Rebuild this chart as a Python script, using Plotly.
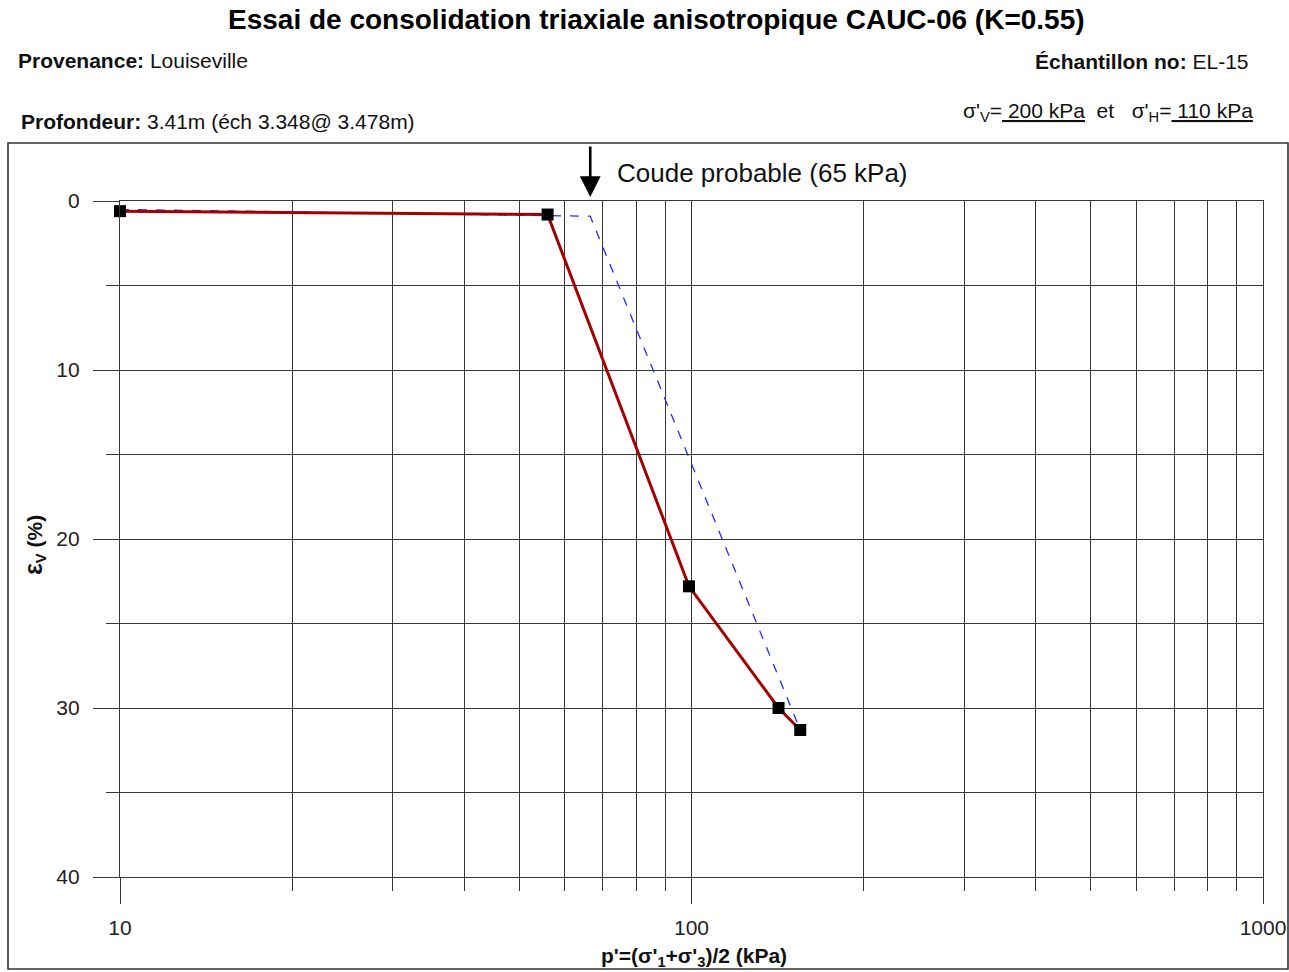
import math
import plotly.graph_objects as go

# ---- data ----
p_mesure = [10, 56, 99, 142, 155]          # kPa
ev_mesure = [0.6, 0.8, 22.8, 30.0, 31.3]   # %
p_interp = [10, 66.5, 155]
ev_interp = [0.5, 0.9, 31.3]
coude_p = 66.5
x_major = [10, 100, 1000]
x_major_text = ["10", "100", "1000"]
x_minor = [20, 30, 40, 50, 60, 70, 80, 90, 200, 300, 400, 500, 600, 700, 800, 900]
y_major = [0, 10, 20, 30, 40]
y_minor = [5, 15, 25, 35]

W, H = 1297, 972
L, R, T, B = 120, 1263, 201, 877
FONT = "Liberation Sans, Arial, sans-serif"
GRID = "#383838"


def px(xp):
    return (xp - L) / (R - L)


def py(yp):
    return (B - yp) / (B - T)


fig = go.Figure()
fig.add_trace(go.Scatter(x=p_interp, y=ev_interp, mode="lines",
                         line=dict(color="#2a2aff", width=1.3, dash="dash"),
                         hoverinfo="skip", showlegend=False, cliponaxis=False))
fig.add_trace(go.Scatter(x=p_mesure, y=ev_mesure, mode="lines+markers",
                         line=dict(color="#a50000", width=3),
                         marker=dict(symbol="square", size=12, color="black"),
                         showlegend=False, cliponaxis=False))

ann = []
ann.append(dict(text="<b>Essai de consolidation triaxiale anisotropique CAUC-06 (K=0.55)</b>",
                x=px(656), y=py(20), xref="paper", yref="paper", xanchor="center", yanchor="middle",
                showarrow=False, font=dict(size=28, color="black")))
ann.append(dict(text="<b>Provenance:</b> Louiseville",
                x=px(16), y=py(60), xref="paper", yref="paper", xanchor="left", yanchor="middle",
                showarrow=False, font=dict(size=21, color="#111")))
ann.append(dict(text="<b>Profondeur:</b> 3.41m (éch 3.348@ 3.478m)",
                x=px(19), y=py(121), xref="paper", yref="paper", xanchor="left", yanchor="middle",
                showarrow=False, font=dict(size=21, color="#111")))
ann.append(dict(text="<b>Échantillon no:</b> EL-15",
                x=px(1251), y=py(62), xref="paper", yref="paper", xanchor="right", yanchor="middle",
                showarrow=False, font=dict(size=21, color="#111")))
ann.append(dict(text="σ'<sub>V</sub>=<u>\u00a0200 kPa</u>\u00a0\u00a0et\u00a0\u00a0\u00a0σ'<sub>H</sub>=<u>\u00a0110 kPa</u>",
                x=px(1255), y=py(112), xref="paper", yref="paper", xanchor="right", yanchor="middle",
                showarrow=False, font=dict(size=21, color="#111")))
# arrow for the knee
ann.append(dict(text="", x=math.log10(coude_p), y=py(197), xref="x", yref="paper",
                showarrow=True, ax=0, ay=-52, axref="pixel", ayref="pixel",
                arrowhead=2, arrowsize=1.6, arrowwidth=2.6, arrowcolor="black"))
ann.append(dict(text="Coude probable (65 kPa)",
                x=px(615), y=py(173), xref="paper", yref="paper", xanchor="left", yanchor="middle",
                showarrow=False, font=dict(size=26, color="#111")))
# axis titles
ann.append(dict(text="<b><span style='font-size:25px'>ε</span><sub>V</sub> (%)</b>", textangle=-90,
                x=px(34), y=py(545), xref="paper", yref="paper", xanchor="center", yanchor="middle",
                showarrow=False, font=dict(size=21, color="#111")))
ann.append(dict(text="<b>p'=(σ'<sub>1</sub>+σ'<sub>3</sub>)/2 (kPa)</b>",
                x=px(694), y=py(957), xref="paper", yref="paper", xanchor="center", yanchor="middle",
                showarrow=False, font=dict(size=21, color="#111")))

shapes = [dict(type="rect", xref="paper", yref="paper",
               x0=px(8), x1=px(1288), y0=py(969), y1=py(143),
               line=dict(color="#333", width=1.6), layer="below")]

fig.update_layout(
    width=W, height=H,
    margin=dict(l=L, r=W - R, t=T, b=H - B),
    paper_bgcolor="white", plot_bgcolor="white",
    font=dict(family=FONT, color="#222"),
    annotations=ann, shapes=shapes,
    xaxis=dict(type="log", range=[1, 3], tickmode="array", tickvals=x_major, ticktext=x_major_text,
               ticks="outside", ticklen=26, tickwidth=1.3, tickcolor=GRID,
               showgrid=True, gridcolor=GRID, gridwidth=1.3,
               showline=True, mirror=True, linecolor=GRID, linewidth=1.3,
               zeroline=False, tickfont=dict(size=21, color="#222"), ticklabelstandoff=6,
               minor=dict(tickmode="array", tickvals=x_minor, ticks="outside", ticklen=13,
                          tickwidth=1.3, tickcolor=GRID, showgrid=True, gridcolor=GRID, gridwidth=1.3)),
    yaxis=dict(range=[40, 0], tickmode="array", tickvals=y_major,
               ticks="outside", ticklen=26, tickwidth=1.3, tickcolor=GRID,
               showgrid=True, gridcolor=GRID, gridwidth=1.3,
               showline=True, mirror=True, linecolor=GRID, linewidth=1.3,
               zeroline=False, tickfont=dict(size=21, color="#222"), ticklabelstandoff=9,
               minor=dict(tickmode="array", tickvals=y_minor, ticks="outside", ticklen=13,
                          tickwidth=1.3, tickcolor=GRID, showgrid=True, gridcolor=GRID, gridwidth=1.3)),
)

fig.write_html("out.html")
